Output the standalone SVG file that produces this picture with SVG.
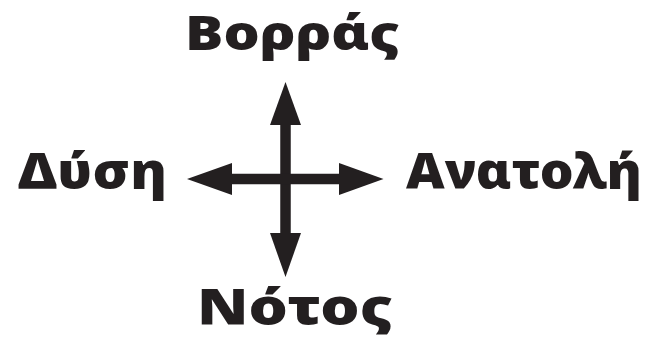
<svg xmlns="http://www.w3.org/2000/svg" width="650" height="339" viewBox="0 0 650 339">
<style>
.lbl{font-family:"Noto Sans","DejaVu Sans",sans-serif;font-weight:900;font-size:50px;fill:#231f20}
.shaft{stroke:#231f20;stroke-width:10.5;fill:none}
.head{fill:#231f20}
</style>
<rect width="650" height="339" fill="#fff"/>
<g id="connectors">
<line class="shaft" x1="285.5" y1="120" x2="285.5" y2="238"/>
<line class="shaft" x1="226" y1="179" x2="345" y2="179"/>
<polygon class="head" points="285.5,82 301,125 270,125"/>
<polygon class="head" points="285.5,277 301,233 270,233"/>
<polygon class="head" points="187,179 232,163 232,195"/>
<polygon class="head" points="383.5,179 339,163 339,195"/>
</g>
<g id="north"><text class="lbl" x="185" y="50" style="font-size:47px" textLength="215" lengthAdjust="spacingAndGlyphs">Βορράς</text></g>
<g id="west"><text class="lbl" x="18" y="189" textLength="149" lengthAdjust="spacingAndGlyphs">Δύση</text></g>
<g id="east"><text class="lbl" x="406" y="189" textLength="236" lengthAdjust="spacingAndGlyphs">Ανατολή</text></g>
<g id="south"><text class="lbl" x="197" y="325" textLength="196" lengthAdjust="spacingAndGlyphs">Νότος</text></g>
</svg>
